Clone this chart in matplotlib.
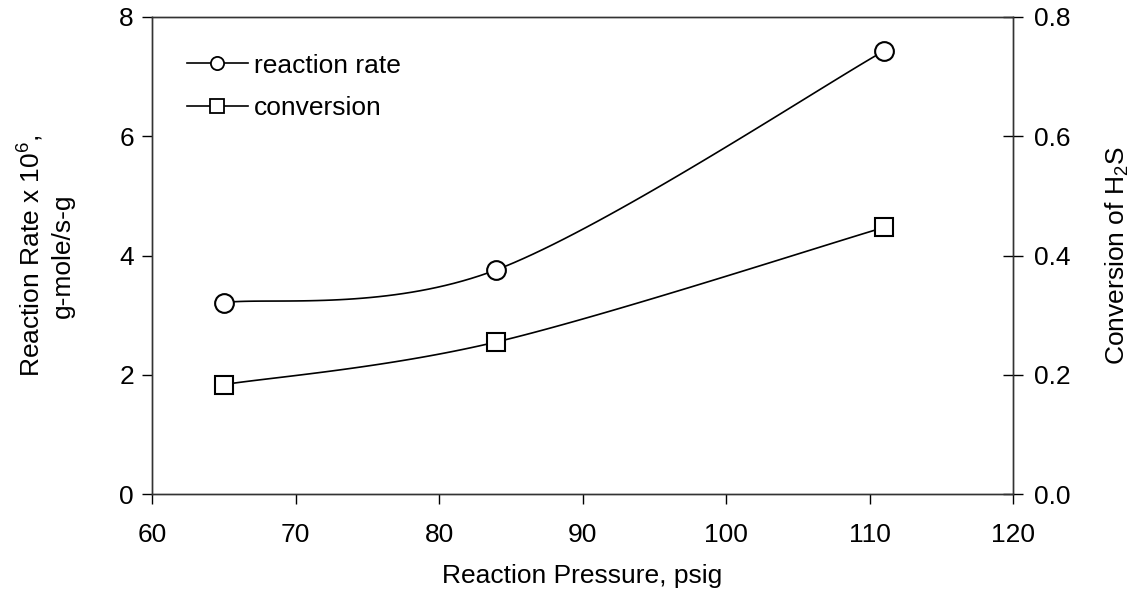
import matplotlib
matplotlib.use("Agg")
import matplotlib.pyplot as plt
import numpy as np

plt.rcParams['font.family'] = ['Liberation Sans', 'DejaVu Sans']
plt.rcParams['mathtext.fontset'] = 'custom'
plt.rcParams['mathtext.rm'] = 'Liberation Sans'

pressure = [65, 84, 111]
reaction_rate = [3.21, 3.76, 7.43]
conversion = [0.1835, 0.255, 0.447]


def smooth(xs, ys, n=40):
    # excel style smoothed line: cubic bezier between points
    p = np.column_stack([xs, ys]).astype(float)
    ext = np.vstack([p[0], p, p[-1]])
    out = []
    for i in range(len(p) - 1):
        p0, p1 = ext[i + 1], ext[i + 2]
        c1 = p0 + (ext[i + 2] - ext[i]) / 6.0
        c2 = p1 - (ext[i + 3] - ext[i + 1]) / 6.0
        t = np.linspace(0, 1, n)[:, None]
        seg = ((1 - t) ** 3) * p0 + 3 * ((1 - t) ** 2) * t * c1 + 3 * (1 - t) * t ** 2 * c2 + t ** 3 * p1
        out.append(seg if i == 0 else seg[1:])
    out = np.vstack(out)
    return out[:, 0], out[:, 1]


fig = plt.figure(figsize=(11.3, 5.96), dpi=100)
ax = fig.add_axes([152 / 1130, 1 - 494 / 596, (1013 - 152) / 1130, (494 - 17) / 596])
ax2 = ax.twinx()

fs = 19
lw = 1.2

sx, sy = smooth(pressure, reaction_rate)
ax.plot(sx, sy, color='black', lw=lw)
ax.plot(pressure, reaction_rate, ls='none', marker='o', ms=13.5, mfc='white', mec='black', mew=1.5)

cx, cy = smooth(pressure, conversion)
ax2.plot(cx, cy, color='black', lw=lw)
ax2.plot(pressure, conversion, ls='none', marker='s', ms=13.5, mfc='white', mec='black', mew=1.5)

# legend handles
h1, = ax.plot([], [], color='black', lw=lw, marker='o', ms=9.5, mfc='white', mec='black', mew=1.3)
h2, = ax.plot([], [], color='black', lw=lw, marker='s', ms=9.5, mfc='white', mec='black', mew=1.3)
ax.legend([h1, h2], ['reaction rate', 'conversion'], loc='upper left', bbox_to_anchor=(0.019, 0.962),
          frameon=False, fontsize=fs, handlelength=2.3, handletextpad=0.25, labelspacing=0.7,
          borderaxespad=0.3)

ax.set_xlim(60, 120)
ax.set_ylim(0, 8)
ax2.set_ylim(0, 0.8)
ax.set_xticks([60, 70, 80, 90, 100, 110, 120])
ax.set_yticks([0, 2, 4, 6, 8])
ax2.set_yticks([0.0, 0.2, 0.4, 0.6, 0.8])
ax2.set_yticklabels(['0.0', '0.2', '0.4', '0.6', '0.8'])

ax.tick_params(axis='x', direction='out', length=7, width=1, labelsize=fs, pad=14)
ax.tick_params(axis='y', direction='out', length=7, width=1, labelsize=fs, pad=6)
ax2.tick_params(axis='y', direction='inout', length=14, width=1, labelsize=fs, pad=8)

for a in (ax, ax2):
    for s in a.spines.values():
        s.set_linewidth(1.0)
        s.set_color('#333333')

ax.set_xlabel('Reaction Pressure, psig', fontsize=fs, labelpad=12)
ax.set_ylabel('Reaction Rate x 10$^6$,\ng-mole/s-g', fontsize=fs, labelpad=32, linespacing=1.3)
ax2.set_ylabel('Conversion of H$_2$S', fontsize=fs, labelpad=24)

fig.savefig('out.png', dpi=100)
